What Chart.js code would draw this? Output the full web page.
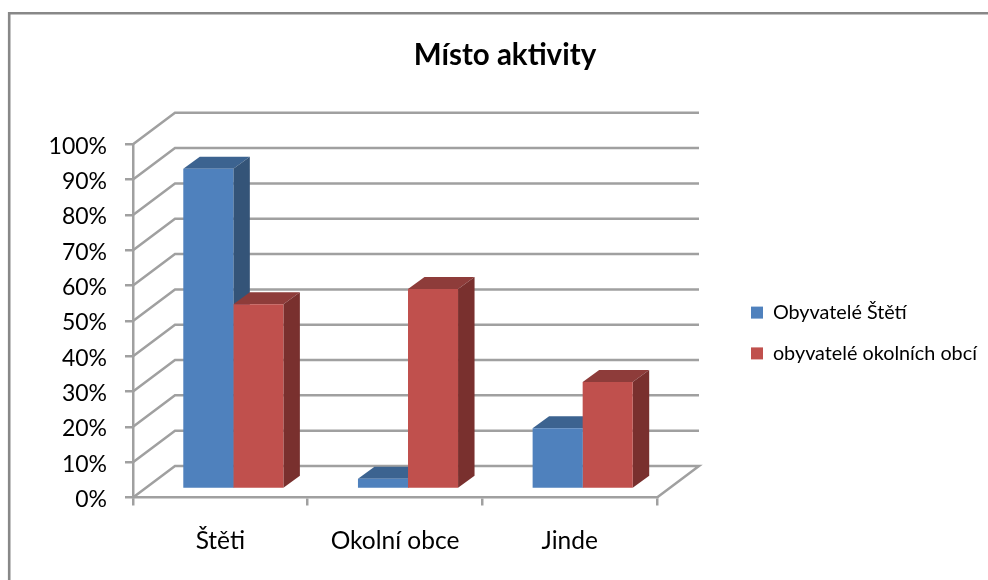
<!DOCTYPE html>
<html><head><meta charset="utf-8">
<style>html,body{margin:0;padding:0;background:#fff}canvas{display:block}</style>
<script src="https://cdn.jsdelivr.net/npm/chart.js@4/dist/chart.umd.min.js"></script>
</head><body>
<div style="width:988px;height:580px"><canvas id="c"></canvas></div>
<script>
const categories = ["Štěti", "Okolní obce", "Jinde"];
const seriesNames = ["Obyvatelé Štětí", "obyvatelé okolních obcí"];
const stetiValues = [90.7, 2.9, 17.2];
const okolniValues = [52.3, 56.6, 30.3];
const titleText = "Místo aktivity";
const yTicks = [0,10,20,30,40,50,60,70,80,90,100];
const GRID = "#a0a0a0";
const FONT = "Lato, 'Open Sans', sans-serif";
const faces = [
 {front:"#4f81bd", top:"#3c6390", side:"#345478"},
 {front:"#c0504d", top:"#8e3c3a", side:"#79302e"}
];
// projection offsets of the pseudo-3D scene
const wall = {dx:42, dy:-31.5};
const barShift = {dx:13, dy:-8.5};
const depth = {dx:16.5, dy:-12};

const scene = {
 id:"scene",
 afterLayout(chart){
  // place the legend and title where the reference has them
  const lg = chart.legend, h = lg.bottom-lg.top;
  lg.left = 730; lg.right = chart.width; lg.top = 333-h/2; lg.bottom = 333+h/2;
  const t = chart.titleBlock;
  t.left = 22; t.right = chart.width;
 },
 beforeDraw(chart){
  const c = chart.ctx;
  c.save(); c.strokeStyle="#888888"; c.lineWidth=2.6;
  c.beginPath(); c.moveTo(9.2,chart.height); c.lineTo(9.2,13.2); c.lineTo(chart.width,13.2); c.stroke();
  c.restore();
 },
 beforeDatasetsDraw(chart){
  const c = chart.ctx, y = chart.scales.y, a = chart.chartArea;
  c.save(); c.strokeStyle=GRID; c.lineWidth=2.5;
  yTicks.forEach(v=>{
   const p = y.getPixelForValue(v);
   c.beginPath(); c.moveTo(a.left,p); c.lineTo(a.left+wall.dx,p+wall.dy);
   c.lineTo(a.right+wall.dx,p+wall.dy);
   if(v===0){ c.lineTo(a.right,p); }
   c.stroke();
  });
  c.restore();
  // 3D faces behind the library's bars; the translate stays on for the bars themselves
  c.save(); c.translate(barShift.dx,barShift.dy);
  [0,1].forEach(i=>{
   chart.getDatasetMeta(i).data.forEach(el=>{
    const l=el.x-el.width/2, r=el.x+el.width/2, t=el.y, b=el.base;
    c.fillStyle=faces[i].top;
    c.beginPath(); c.moveTo(l,t); c.lineTo(l+depth.dx,t+depth.dy); c.lineTo(r+depth.dx,t+depth.dy); c.lineTo(r,t); c.closePath(); c.fill();
    c.fillStyle=faces[i].side;
    c.beginPath(); c.moveTo(r,t); c.lineTo(r+depth.dx,t+depth.dy); c.lineTo(r+depth.dx,b+depth.dy); c.lineTo(r,b); c.closePath(); c.fill();
   });
  });
 },
 afterDatasetsDraw(chart){ chart.ctx.restore(); }
};

new Chart(document.getElementById("c"),{
 type:"bar",
 data:{labels:categories,datasets:[
  {label:seriesNames[0],data:stetiValues,backgroundColor:faces[0].front,clip:false},
  {label:seriesNames[1],data:okolniValues,backgroundColor:faces[1].front,clip:false}
 ]},
 options:{
  responsive:true,maintainAspectRatio:false,animation:false,
  categoryPercentage:0.573,barPercentage:1,
  layout:{padding:{left:0,right:112,top:0,bottom:0}},
  plugins:{
   title:{display:true,text:titleText,color:"#000",font:{family:FONT,size:29.5,weight:"bold"},padding:{top:37.3,bottom:71.6}},
   legend:{position:"right",labels:{color:"#000",font:{family:FONT,size:19.8},boxWidth:12,boxHeight:12,padding:21}},
   tooltip:{enabled:false}
  },
  scales:{
   x:{
    afterFit(s){s.height=82.5;},
    grid:{drawOnChartArea:false,color:GRID,lineWidth:2.5,tickLength:8},
    border:{color:GRID,width:2.5},
    ticks:{color:"#000",font:{family:FONT,size:24.5},padding:21,maxRotation:0}
   },
   y:{
    min:0,max:100,
    afterFit(s){s.width=133;},
    grid:{drawOnChartArea:false,color:GRID,lineWidth:2.5,tickLength:8},
    border:{color:GRID,width:2.5},
    ticks:{color:"#000",font:{family:FONT,size:23},padding:18,stepSize:10,labelOffset:2,callback:v=>v+"%"}
   }
  }
 },
 plugins:[scene]
});
</script>
</body></html>
